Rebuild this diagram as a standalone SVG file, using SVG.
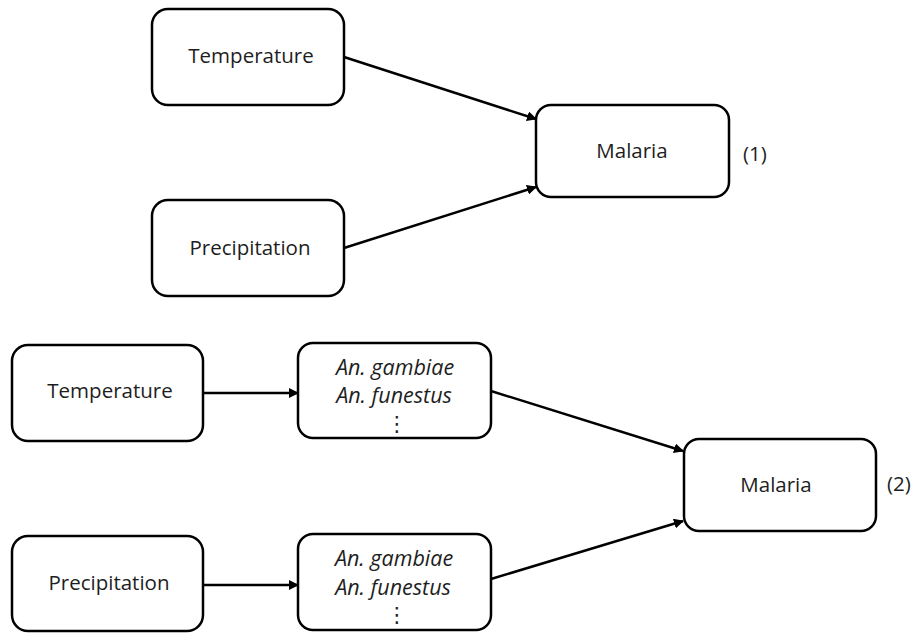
<svg xmlns="http://www.w3.org/2000/svg" width="915" height="634" viewBox="0 0 915 634">
<style>
.box{fill:#fff;stroke:#000;stroke-width:2.5}
.t{font-family:"Open Sans","Noto Sans","DejaVu Sans",sans-serif;font-size:20.5px;fill:#1e1e1e;text-anchor:middle;dominant-baseline:central}
.i{font-style:italic;font-size:21.5px}
.d{font-size:21px}
.c{stroke:#000;stroke-width:2.5;fill:none;marker-end:url(#ah)}
</style>
<defs>
<marker id="ah" viewBox="0 0 10 10" refX="9" refY="5" markerWidth="4" markerHeight="4" orient="auto" markerUnits="strokeWidth">
<path d="M0,0 L10,5 L0,10 z" fill="#000"/>
</marker>
</defs>
<rect width="915" height="634" fill="#fff"/>
<g id="connectors">
<line class="c" x1="344" y1="57" x2="536" y2="119"/>
<line class="c" x1="344" y1="248" x2="536" y2="187"/>
<line class="c" x1="203" y1="393" x2="298" y2="393"/>
<line class="c" x1="203" y1="585" x2="298" y2="585"/>
<line class="c" x1="491" y1="391" x2="683" y2="451"/>
<line class="c" x1="491" y1="579" x2="683" y2="521"/>
</g>
<g id="temp1"><rect class="box" x="152" y="9" width="192" height="96" rx="16"/><text class="t" x="251" y="55">Temperature</text></g>
<g id="precip1"><rect class="box" x="152" y="200" width="192" height="96" rx="16"/><text class="t" x="250" y="247">Precipitation</text></g>
<g id="malaria1"><rect class="box" x="536" y="105" width="193" height="92" rx="15"/><text class="t" x="632" y="150">Malaria</text></g>
<text class="t" x="755" y="153">(1)</text>
<g id="temp2"><rect class="box" x="12" y="345" width="191" height="96" rx="16"/><text class="t" x="110" y="390">Temperature</text></g>
<g id="precip2"><rect class="box" x="12" y="536" width="191" height="95" rx="16"/><text class="t" x="109" y="582">Precipitation</text></g>
<g id="species1"><rect class="box" x="298" y="343" width="193" height="95" rx="15"/>
<text class="t i" x="395" y="366">An. gambiae</text><text class="t i" x="394" y="394">An. funestus</text><text class="t d" x="397" y="423">⋮</text></g>
<g id="species2"><rect class="box" x="298" y="534" width="193" height="96" rx="15"/>
<text class="t i" x="394" y="557">An. gambiae</text><text class="t i" x="393" y="586">An. funestus</text><text class="t d" x="397" y="614">⋮</text></g>
<g id="malaria2"><rect class="box" x="684" y="439" width="192" height="92" rx="15"/><text class="t" x="776" y="484">Malaria</text></g>
<text class="t" x="899" y="483">(2)</text>
</svg>
